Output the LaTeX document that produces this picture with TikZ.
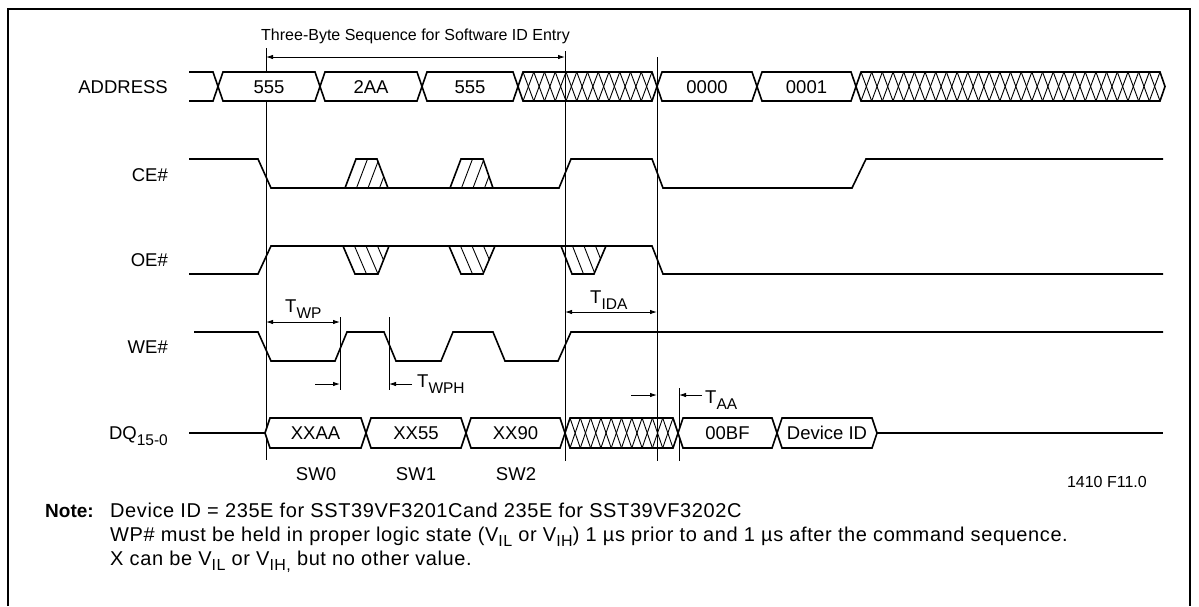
\documentclass[tikz,border=0pt]{standalone}
\usepackage{fontspec}
\setmainfont{Liberation Sans}
\usetikzlibrary{arrows.meta}
\tikzset{
 sig/.style={line width=1.6pt, line join=miter},
 refln/.style={line width=0.9pt},
 hatchln/.style={line width=0.9pt},
 dimarr/.style={line width=0.9pt, -{Latex[length=7pt,width=4.5pt]}},
 dimboth/.style={line width=0.9pt, {Latex[length=7pt,width=4.5pt]}-{Latex[length=7pt,width=4.5pt]}},
 lbl/.style={font=\fontsize{18.5}{22}\selectfont, inner sep=0pt},
 notelbl/.style={font=\fontsize{20}{24}\selectfont\addfontfeature{LetterSpace=3.0}, inner sep=0pt},
 smalllbl/.style={font=\fontsize{16}{19}\selectfont, inner sep=0pt},
 framebox/.style={line width=1.2pt},
}
\newcommand\subs[1]{\raisebox{-6pt}{\fontsize{15.5}{16}\selectfont #1}}
\newcommand\nsubs[1]{\raisebox{-5.5pt}{\fontsize{16}{16}\selectfont\addfontfeature{LetterSpace=3.0}#1}}
\newcommand\busseg[6]{%
 \draw[sig, fill=white] (#2,{(#4+#5)/2}) -- ({#2+5},#4) -- ({#3-5},#4) -- (#3,{(#4+#5)/2}) -- ({#3-5},#5) -- ({#2+5},#5) -- cycle;
 \node[lbl, anchor=base] (#1) at ({(#2+#3)/2},{(#4+#5)/2+6.6}) {#6};
}
\newcommand\hatchbus[5]{%
 \pgfmathsetmacro\hatchp{(#2-#1-10)/#5}
 \foreach \hk in {1,...,#5} {
   \draw[hatchln] ({#1+5+(\hk-1)*\hatchp},#3) -- ({#1+5+\hk*\hatchp},#4);
   \draw[hatchln] ({#1+5+(\hk-1)*\hatchp},#4) -- ({#1+5+\hk*\hatchp},#3);
 }
 \draw[sig] (#1,{(#3+#4)/2}) -- ({#1+5},#3) -- ({#2-5},#3) -- (#2,{(#3+#4)/2}) -- ({#2-5},#4) -- ({#1+5},#4) -- cycle;
}
\newcommand\cebump[6]{%
 \begin{scope}
 \clip (#1,#6) -- (#2,#5) -- (#3,#5) -- (#4,#6) -- cycle;
 \foreach \hoff in {11.5,23,34.5} \draw[hatchln] ({#1+\hoff},#6) -- ({#2+\hoff},#5);
 \end{scope}
 \draw[sig] (#1,#6) -- (#2,#5) -- (#3,#5) -- (#4,#6);
}
\newcommand\oedip[6]{%
 \begin{scope}
 \clip (#1,#5) -- (#2,#6) -- (#3,#6) -- (#4,#5) -- cycle;
 \foreach \hoff in {11.5,23,34.5} \draw[hatchln] ({#1+\hoff},#5) -- ({#2+\hoff},#6);
 \end{scope}
 \draw[sig] (#1,#5) -- (#2,#6) -- (#3,#6) -- (#4,#5);
}
\begin{document}
\begin{tikzpicture}[x=1pt,y=-1pt]
\useasboundingbox (0,0) rectangle (1199,606);
\draw[framebox] (8,606) -- (8,9) -- (1190,9) -- (1190,606);

% title and sequence arrow
\node[smalllbl, anchor=base] (title) at (415.5,40) {Three-Byte Sequence for Software ID Entry};
\coordinate (sq1) at (266,57); \coordinate (sq2) at (565,57);

% reference lines
\coordinate (v1t) at (266,48);  \coordinate (v1b) at (266,460);
\coordinate (v2t) at (565,51);  \coordinate (v2b) at (565,461);
\coordinate (v3t) at (657,57);  \coordinate (v3b) at (657,461);
\coordinate (v4t) at (340,317); \coordinate (v4b) at (340,390);
\coordinate (v5t) at (389,317); \coordinate (v5b) at (389,390);
\coordinate (v6t) at (679,388); \coordinate (v6b) at (679,461);
\foreach \va/\vb in {v1t/v1b,v2t/v2b,v3t/v3b,v4t/v4b,v5t/v5b,v6t/v6b}
  \draw[refln] (\va) -- (\vb);
\draw[dimboth] (sq1) -- (sq2);

% signal labels
\node[lbl, anchor=base east] (lADDR) at (168,93.1) {ADDRESS};
\node[lbl, anchor=base east] (lCE) at (168,181.6) {CE\#};
\node[lbl, anchor=base east] (lOE) at (168,266.6) {OE\#};
\node[lbl, anchor=base east] (lWE) at (168,353.1) {WE\#};
\node[lbl, anchor=base east] (lDQ) at (168,439.6) {DQ\subs{15-0}};

% ADDRESS
\draw[sig] (189,72) -- (213,72) -- (218,86.5) -- (213,101) -- (189,101);
\busseg{a1}{218}{320}{72}{101}{555}
\busseg{a2}{320}{422}{72}{101}{2AA}
\busseg{a3}{422}{518}{72}{101}{555}
\hatchbus{518}{657}{72}{101}{12}
\busseg{a4}{657}{757}{72}{101}{0000}
\busseg{a5}{757}{856}{72}{101}{0001}
\hatchbus{856}{1165}{72}{101}{28}

% CE#
\draw[sig] (189,159) -- (258,159) -- (271,188) -- (559,188) -- (571,159) -- (652,159) -- (663,188) -- (852,188) -- (866,159) -- (1163,159);
\cebump{345}{356}{377}{388}{159}{188}
\cebump{450}{461}{483}{493}{159}{188}

% OE#
\draw[sig] (189,274) -- (258,274) -- (271,246) -- (652,246) -- (663,274) -- (1163,274);
\oedip{343}{355}{378}{389}{246}{274}
\oedip{449}{461}{483}{495}{246}{274}
\oedip{561}{572}{594}{606}{246}{274}

% WE#
\draw[sig] (194,332) -- (258,332) -- (271,361) -- (335,361) -- (347,332) -- (384,332) -- (396,361) -- (441,361) -- (453,332) -- (493,332) -- (505,361) -- (558,361) -- (571,332) -- (1163,332);

% DQ
\draw[sig] (189,433) -- (265,433);
\busseg{d1}{265}{366}{418}{448}{XXAA}
\busseg{d2}{366}{466}{418}{448}{XX55}
\busseg{d3}{466}{565}{418}{448}{XX90}
\hatchbus{565}{678}{418}{448}{10}
\busseg{d4}{678}{777}{418}{448}{00BF}
\busseg{d5}{777}{877}{418}{448}{Device ID}
\draw[sig] (877,433) -- (1163,433);

% timing annotations
\coordinate (tw1) at (266,322); \coordinate (tw2) at (340,322);
\draw[dimboth] (tw1) -- (tw2);
\node[lbl, anchor=base west] (tWP) at (285,312) {T\subs{WP}};
\coordinate (ti1) at (565,312); \coordinate (ti2) at (657,312);
\draw[dimboth] (ti1) -- (ti2);
\node[lbl, anchor=base west] (tIDA) at (590,303) {T\subs{IDA}};
\coordinate (wa1) at (315,384); \coordinate (wa2) at (340,384);
\draw[dimarr] (wa1) -- (wa2);
\coordinate (wb1) at (412,384); \coordinate (wb2) at (389,384);
\draw[dimarr] (wb1) -- (wb2);
\node[lbl, anchor=base west] (tWPH) at (417,387) {T\subs{WPH}};
\coordinate (ta1) at (631,395); \coordinate (ta2) at (657,395);
\draw[dimarr] (ta1) -- (ta2);
\coordinate (tb1) at (702,395); \coordinate (tb2) at (679,395);
\draw[dimarr] (tb1) -- (tb2);
\node[lbl, anchor=base west] (tAA) at (705,403) {T\subs{AA}};

% SW labels
\node[lbl, anchor=base] (sw0) at (316,480) {SW0};
\node[lbl, anchor=base] (sw1) at (416,480) {SW1};
\node[lbl, anchor=base] (sw2) at (516,480) {SW2};

\node[smalllbl, anchor=base east] (fig) at (1147,487) {1410 F11.0};

% notes
\node[font=\fontsize{19}{22}\selectfont\bfseries, inner sep=0pt, anchor=base west] (noteh) at (45,517) {Note:};
\node[notelbl, anchor=base west] (n1) at (110,517) {Device ID = 235E for SST39VF3201Cand 235E for SST39VF3202C};
\node[notelbl, anchor=base west] (n2) at (110,541) {WP\# must be held in proper logic state (V\nsubs{IL} or V\nsubs{IH}) 1 µs prior to and 1 µs after the command sequence.};
\node[notelbl, anchor=base west] (n3) at (110,565) {X can be V\nsubs{IL} or V\nsubs{IH,} but no other value.};
\end{tikzpicture}
\end{document}
